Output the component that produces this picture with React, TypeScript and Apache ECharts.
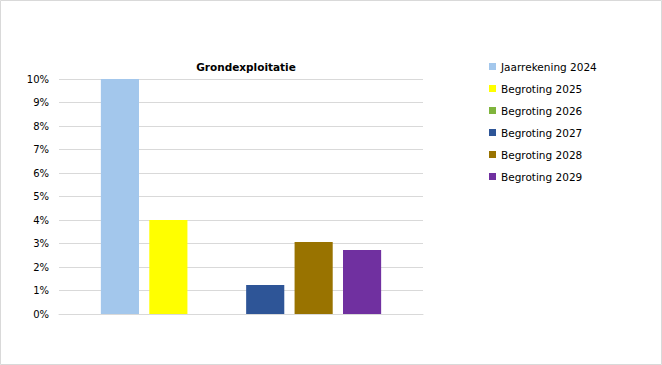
import React, { useEffect, useRef } from "react";
import * as echarts from "echarts";

const categories = [""];
const seriesNames = [
  "Jaarrekening 2024",
  "Begroting 2025",
  "Begroting 2026",
  "Begroting 2027",
  "Begroting 2028",
  "Begroting 2029",
];
const seriesValues = [0.1, 0.04, 0, 0.0123, 0.0306, 0.0272];
const seriesColors = ["#a3c7ec", "#ffff00", "#7fb43c", "#2e5597", "#997300", "#7030a0"];
const chartTitle = "Grondexploitatie";

export default function App() {
  const ref = useRef<HTMLDivElement>(null);
  useEffect(() => {
    document.body.style.margin = "0";
    const chart = echarts.init(ref.current!, null, { renderer: "svg" });
    const font = "DejaVu Sans, Verdana, sans-serif";
    chart.setOption({
      animation: false,
      backgroundColor: "#ffffff",
      textStyle: { fontFamily: font },
      title: {
        text: chartTitle,
        left: 241,
        textAlign: "center",
        top: 56,
        textStyle: { fontSize: 10.5, fontWeight: "bold", color: "#000", fontFamily: font },
      },
      graphic: [
        {
          type: "rect",
          shape: { x: 0.5, y: 0.5, width: 661, height: 364 },
          style: { fill: "none", stroke: "#d9d9d9", lineWidth: 1 },
          silent: true,
        },
      ],
      legend: {
        orient: "vertical",
        left: 484,
        top: 56,
        itemWidth: 7,
        itemHeight: 7,
        itemGap: 11,
        icon: "rect",
        textStyle: { fontSize: 10.5, color: "#000", fontFamily: font },
        data: seriesNames,
      },
      grid: { left: 59, right: 239, top: 79, bottom: 51, containLabel: false },
      xAxis: {
        type: "category",
        data: categories,
        axisLine: { lineStyle: { color: "#d9d9d9" } },
        axisTick: { show: false },
        axisLabel: { show: false },
      },
      yAxis: {
        type: "value",
        min: 0,
        max: 0.1,
        interval: 0.01,
        axisLine: { show: false },
        axisTick: { show: false },
        splitLine: { lineStyle: { color: "#d9d9d9" } },
        axisLabel: {
          fontSize: 10,
          color: "#000",
          margin: 10,
          fontFamily: font,
          formatter: (v: number) => `${Math.round(v * 100)}%`,
        },
      },
      series: seriesNames.map((name, i) => ({
        name,
        type: "bar",
        data: [seriesValues[i]],
        itemStyle: { color: seriesColors[i] },
        barGap: "27%",
        barCategoryGap: "23%",
      })),
    });
    return () => chart.dispose();
  }, []);
  return <div ref={ref} style={{ position: "absolute", left: 0, top: 0, width: 662, height: 365 }} />;
}
